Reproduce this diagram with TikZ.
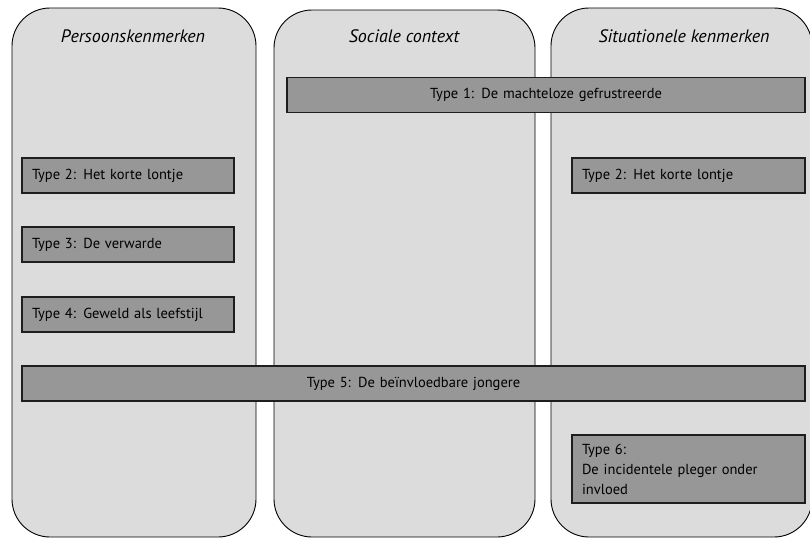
\documentclass[tikz,border=0pt]{standalone}
\usepackage{fontspec}
\setmainfont{PT Sans}
\definecolor{colfill}{HTML}{DCDCDC}
\definecolor{boxfill}{HTML}{979797}
\definecolor{boxline}{HTML}{1E1E1E}
\begin{document}
\begin{tikzpicture}[x=1pt,y=-1pt,
  column/.style={draw=black, line width=0.9pt, fill=colfill, rounded corners=38pt, minimum width=#1, inner sep=0pt},
  header/.style={font=\fontsize{18}{20}\selectfont\itshape},
  typebox/.style={draw=boxline, line width=1.3pt, fill=boxfill, minimum width=#1, text width=#1-20pt, inner xsep=10pt, inner ysep=0pt, minimum height=35pt, align=left, font=\fontsize{14.5}{20}\selectfont},
  widebox/.style={typebox=#1, align=center}]
\useasboundingbox (0,0) rectangle (810,538);
\node[column=244pt, minimum height=529pt] (c1) at (134,272.5) {};
\node[column=261pt, minimum height=527pt] (c2) at (404.5,273.5) {};
\node[column=261pt, minimum height=529pt] (c3) at (681.5,272.5) {};
\node[header] (h1) at (133,36) {Persoonskenmerken};
\node[header] (h2) at (404,36) {Sociale context};
\node[header] (h3) at (684,36) {Situationele kenmerken};
\node[widebox=518pt] (t1) at (546,95) {Type 1: De machteloze gefrustreerde};
\node[typebox=212pt] (t2l) at (128,175.5) {Type 2: Het korte lontje};
\node[typebox=233pt] (t2r) at (688.5,175.5) {Type 2: Het korte lontje};
\node[typebox=212pt] (t3) at (128,244.5) {Type 3: De verwarde};
\node[typebox=212pt] (t4) at (128,314.5) {Type 4: Geweld als leefstijl};
\node[widebox=783pt] (t5) at (413.5,383.5) {Type 5: De beïnvloedbare jongere};
\node[typebox=233pt, minimum height=68pt] (t6) at (688.5,469) {Type 6:\\De incidentele pleger onder\\invloed};
\end{tikzpicture}
\end{document}
